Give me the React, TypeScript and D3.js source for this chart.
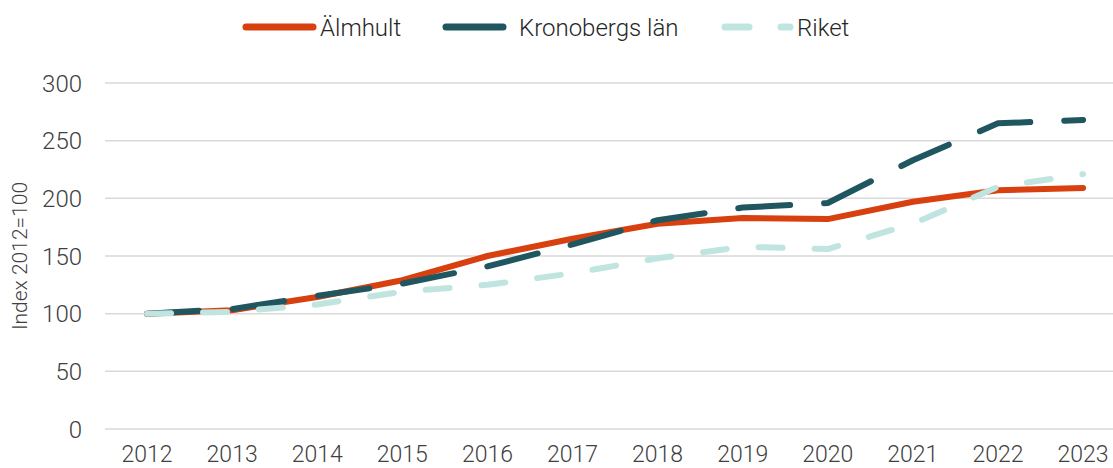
import React, { useEffect, useRef } from 'react';
import * as d3 from 'd3';

const years = ['2012', '2013', '2014', '2015', '2016', '2017', '2018', '2019', '2020', '2021', '2022', '2023'];
const almhult = [100, 103, 114.5, 129, 150, 165, 178, 183, 182, 197, 207, 209];
const kronoberg = [100, 104, 115.5, 126, 141, 160, 181, 192, 196, 233, 265, 268];
const riket = [100, 101.5, 108, 119, 125, 135, 148, 158, 156, 178, 210, 221];
const yTicks = [0, 50, 100, 150, 200, 250, 300];

const series = [
  { name: 'Älmhult', values: almhult, color: '#D9400F', dash: null },
  { name: 'Kronobergs län', values: kronoberg, color: '#1F5660', dash: '52 34' },
  { name: 'Riket', values: riket, color: '#C0E5E0', dash: '24 32' },
];

const W = 1113;
const H = 468;
const font = 'Roboto, "Open Sans", sans-serif';

const App = () => {
  const ref = useRef<SVGSVGElement>(null);

  useEffect(() => {
    const svg = d3.select(ref.current);
    svg.selectAll('*').remove();

    const x = d3.scaleBand().domain(years).range([104.5, 1125.6]);
    const y = d3.scaleLinear().domain([0, 300]).range([429, 83]);

    // gridlines
    svg.append('g')
      .selectAll('line')
      .data(yTicks)
      .enter()
      .append('line')
      .attr('x1', 105)
      .attr('x2', W)
      .attr('y1', d => y(d))
      .attr('y2', d => y(d))
      .attr('stroke', '#d9d9d9')
      .attr('stroke-width', 1.5);

    // y labels
    svg.append('g')
      .selectAll('text')
      .data(yTicks)
      .enter()
      .append('text')
      .attr('x', 82)
      .attr('y', d => y(d))
      .attr('dy', '0.36em')
      .attr('text-anchor', 'end')
      .attr('font-family', font)
      .attr('font-weight', 300)
      .attr('font-size', 24)
      .attr('fill', '#404040')
      .text(d => d);

    // x labels (kept inside the 468px frame)
    svg.append('g')
      .selectAll('text')
      .data(years)
      .enter()
      .append('text')
      .attr('x', d => (x(d) as number) + x.bandwidth() / 2)
      .attr('y', 462)
      .attr('text-anchor', 'middle')
      .attr('font-family', font)
      .attr('font-weight', 300)
      .attr('font-size', 23)
      .attr('fill', '#404040')
      .text(d => d);

    // axis title
    svg.append('text')
      .attr('transform', `translate(27, ${y(150)}) rotate(-90)`)
      .attr('text-anchor', 'middle')
      .attr('font-family', font)
      .attr('font-weight', 300)
      .attr('font-size', 21)
      .attr('fill', '#404040')
      .text('Index 2012=100');

    const line = d3.line<number>()
      .x((d, i) => (x(years[i]) as number) + x.bandwidth() / 2)
      .y(d => y(d));

    series.forEach(s => {
      svg.append('path')
        .datum(s.values)
        .attr('d', line)
        .attr('fill', 'none')
        .attr('stroke', s.color)
        .attr('stroke-width', 6)
        .attr('stroke-linecap', 'round')
        .attr('stroke-linejoin', 'round')
        .attr('stroke-dasharray', s.dash);
    });

    // legend
    const legend = [
      { x1: 246, x2: 313, tx: 320 },
      { x1: 446, x2: 503, tx: 519 },
      { x1: 725, x2: 790, tx: 797 },
    ];
    series.forEach((s, i) => {
      const l = legend[i];
      svg.append('line')
        .attr('x1', l.x1)
        .attr('x2', l.x2)
        .attr('y1', 27)
        .attr('y2', 27)
        .attr('stroke', s.color)
        .attr('stroke-width', 7)
        .attr('stroke-linecap', 'round')
        .attr('stroke-dasharray', i == 2 ? '24 32' : null);
      svg.append('text')
        .attr('x', l.tx)
        .attr('y', 27)
        .attr('dy', '0.36em')
        .attr('font-family', font)
        .attr('font-weight', 300)
        .attr('font-size', 24)
        .attr('fill', '#262626')
        .text(s.name);
    });
  }, []);

  return (
    <svg ref={ref} width={W} height={H} style={{ position: 'absolute', left: 0, top: 0, background: '#fff' }} />
  );
};

export default App;
